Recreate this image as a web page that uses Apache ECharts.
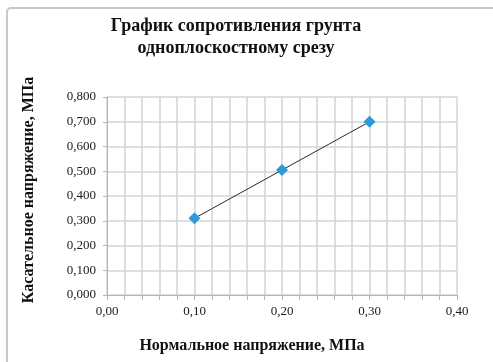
<!DOCTYPE html>
<html>
<head>
<meta charset="utf-8">
<script src="https://cdn.jsdelivr.net/npm/echarts@6/dist/echarts.min.js"></script>
<style>
  html, body { margin: 0; padding: 0; background: #fff; }
  #chart { width: 493px; height: 362px; }
</style>
</head>
<body>
<div id="chart"></div>
<script>
// нормальное напряжение, МПа
var normalStress = [0.10, 0.20, 0.30];
// касательное напряжение, МПа
var shearStress = [0.31, 0.505, 0.70];

var titleText = 'График сопротивления грунта\nодноплоскостному срезу';
var xName = 'Нормальное напряжение, МПа';
var yName = 'Касательное напряжение, МПа';

var points = [];
for (var i = 0; i < normalStress.length; i++) {
    points.push([normalStress[i], shearStress[i]]);
}

var serif = '"Liberation Serif", "DejaVu Serif", serif';
var gridColor = '#d4d4d4';

var myChart = echarts.init(document.getElementById('chart'));
var option = {
    backgroundColor: '#fff',
    animation: false,
    graphic: [{
        type: 'rect',
        shape: { x: 7, y: 8, width: 520, height: 400, r: 4 },
        style: { fill: 'none', stroke: '#c8c8c8', lineWidth: 2 },
        silent: true
    }],
    title: {
        text: titleText,
        left: 231,
        top: 10,
        textAlign: 'center',
        textStyle: {
            fontFamily: serif,
            fontSize: 18,
            fontWeight: 'bold',
            color: '#111',
            lineHeight: 22
        }
    },
    grid: { left: 107, right: 36, top: 97, bottom: 67 },
    xAxis: {
        type: 'value',
        min: 0,
        max: 0.4,
        interval: 0.1,
        name: xName,
        nameLocation: 'middle',
        nameGap: 43,
        nameTextStyle: {
            fontFamily: serif,
            fontSize: 16,
            fontWeight: 'bold',
            color: '#111',
            padding: [0, 60, 0, 0]
        },
        axisLine: { show: true, onZero: false, lineStyle: { color: '#b5b5b5', width: 1 } },
        axisTick: { show: true, length: 5, lineStyle: { color: '#b5b5b5' } },
        minorTick: { show: true, splitNumber: 5, length: 5, lineStyle: { color: '#b5b5b5' } },
        splitLine: { show: true, lineStyle: { color: gridColor, width: 1.5 } },
        minorSplitLine: { show: true, lineStyle: { color: gridColor, width: 1.5 } },
        axisLabel: {
            fontFamily: serif,
            fontSize: 13,
            color: '#1a1a1a',
            margin: 10,
            formatter: function (v) { return v.toFixed(2).replace('.', ','); }
        }
    },
    yAxis: {
        type: 'value',
        min: 0,
        max: 0.8,
        interval: 0.1,
        name: yName,
        nameLocation: 'middle',
        nameGap: 70,
        nameTextStyle: {
            fontFamily: serif,
            fontSize: 16,
            fontWeight: 'bold',
            color: '#111',
            padding: [0, 0, 0, 12]
        },
        axisLine: { show: true, lineStyle: { color: '#b5b5b5', width: 1 } },
        axisTick: { show: true, length: 4, lineStyle: { color: '#b5b5b5' } },
        splitLine: { show: true, lineStyle: { color: gridColor, width: 1.5 } },
        axisLabel: {
            fontFamily: serif,
            fontSize: 13,
            color: '#1a1a1a',
            margin: 11,
            formatter: function (v) { return v.toFixed(3).replace('.', ','); }
        }
    },
    series: [{
        type: 'line',
        data: points,
        symbol: 'diamond',
        symbolSize: 12,
        itemStyle: { color: '#2c9bd8' },
        lineStyle: { color: '#2a2a2a', width: 1 },
        z: 3
    }]
};
myChart.setOption(option);
</script>
</body>
</html>
